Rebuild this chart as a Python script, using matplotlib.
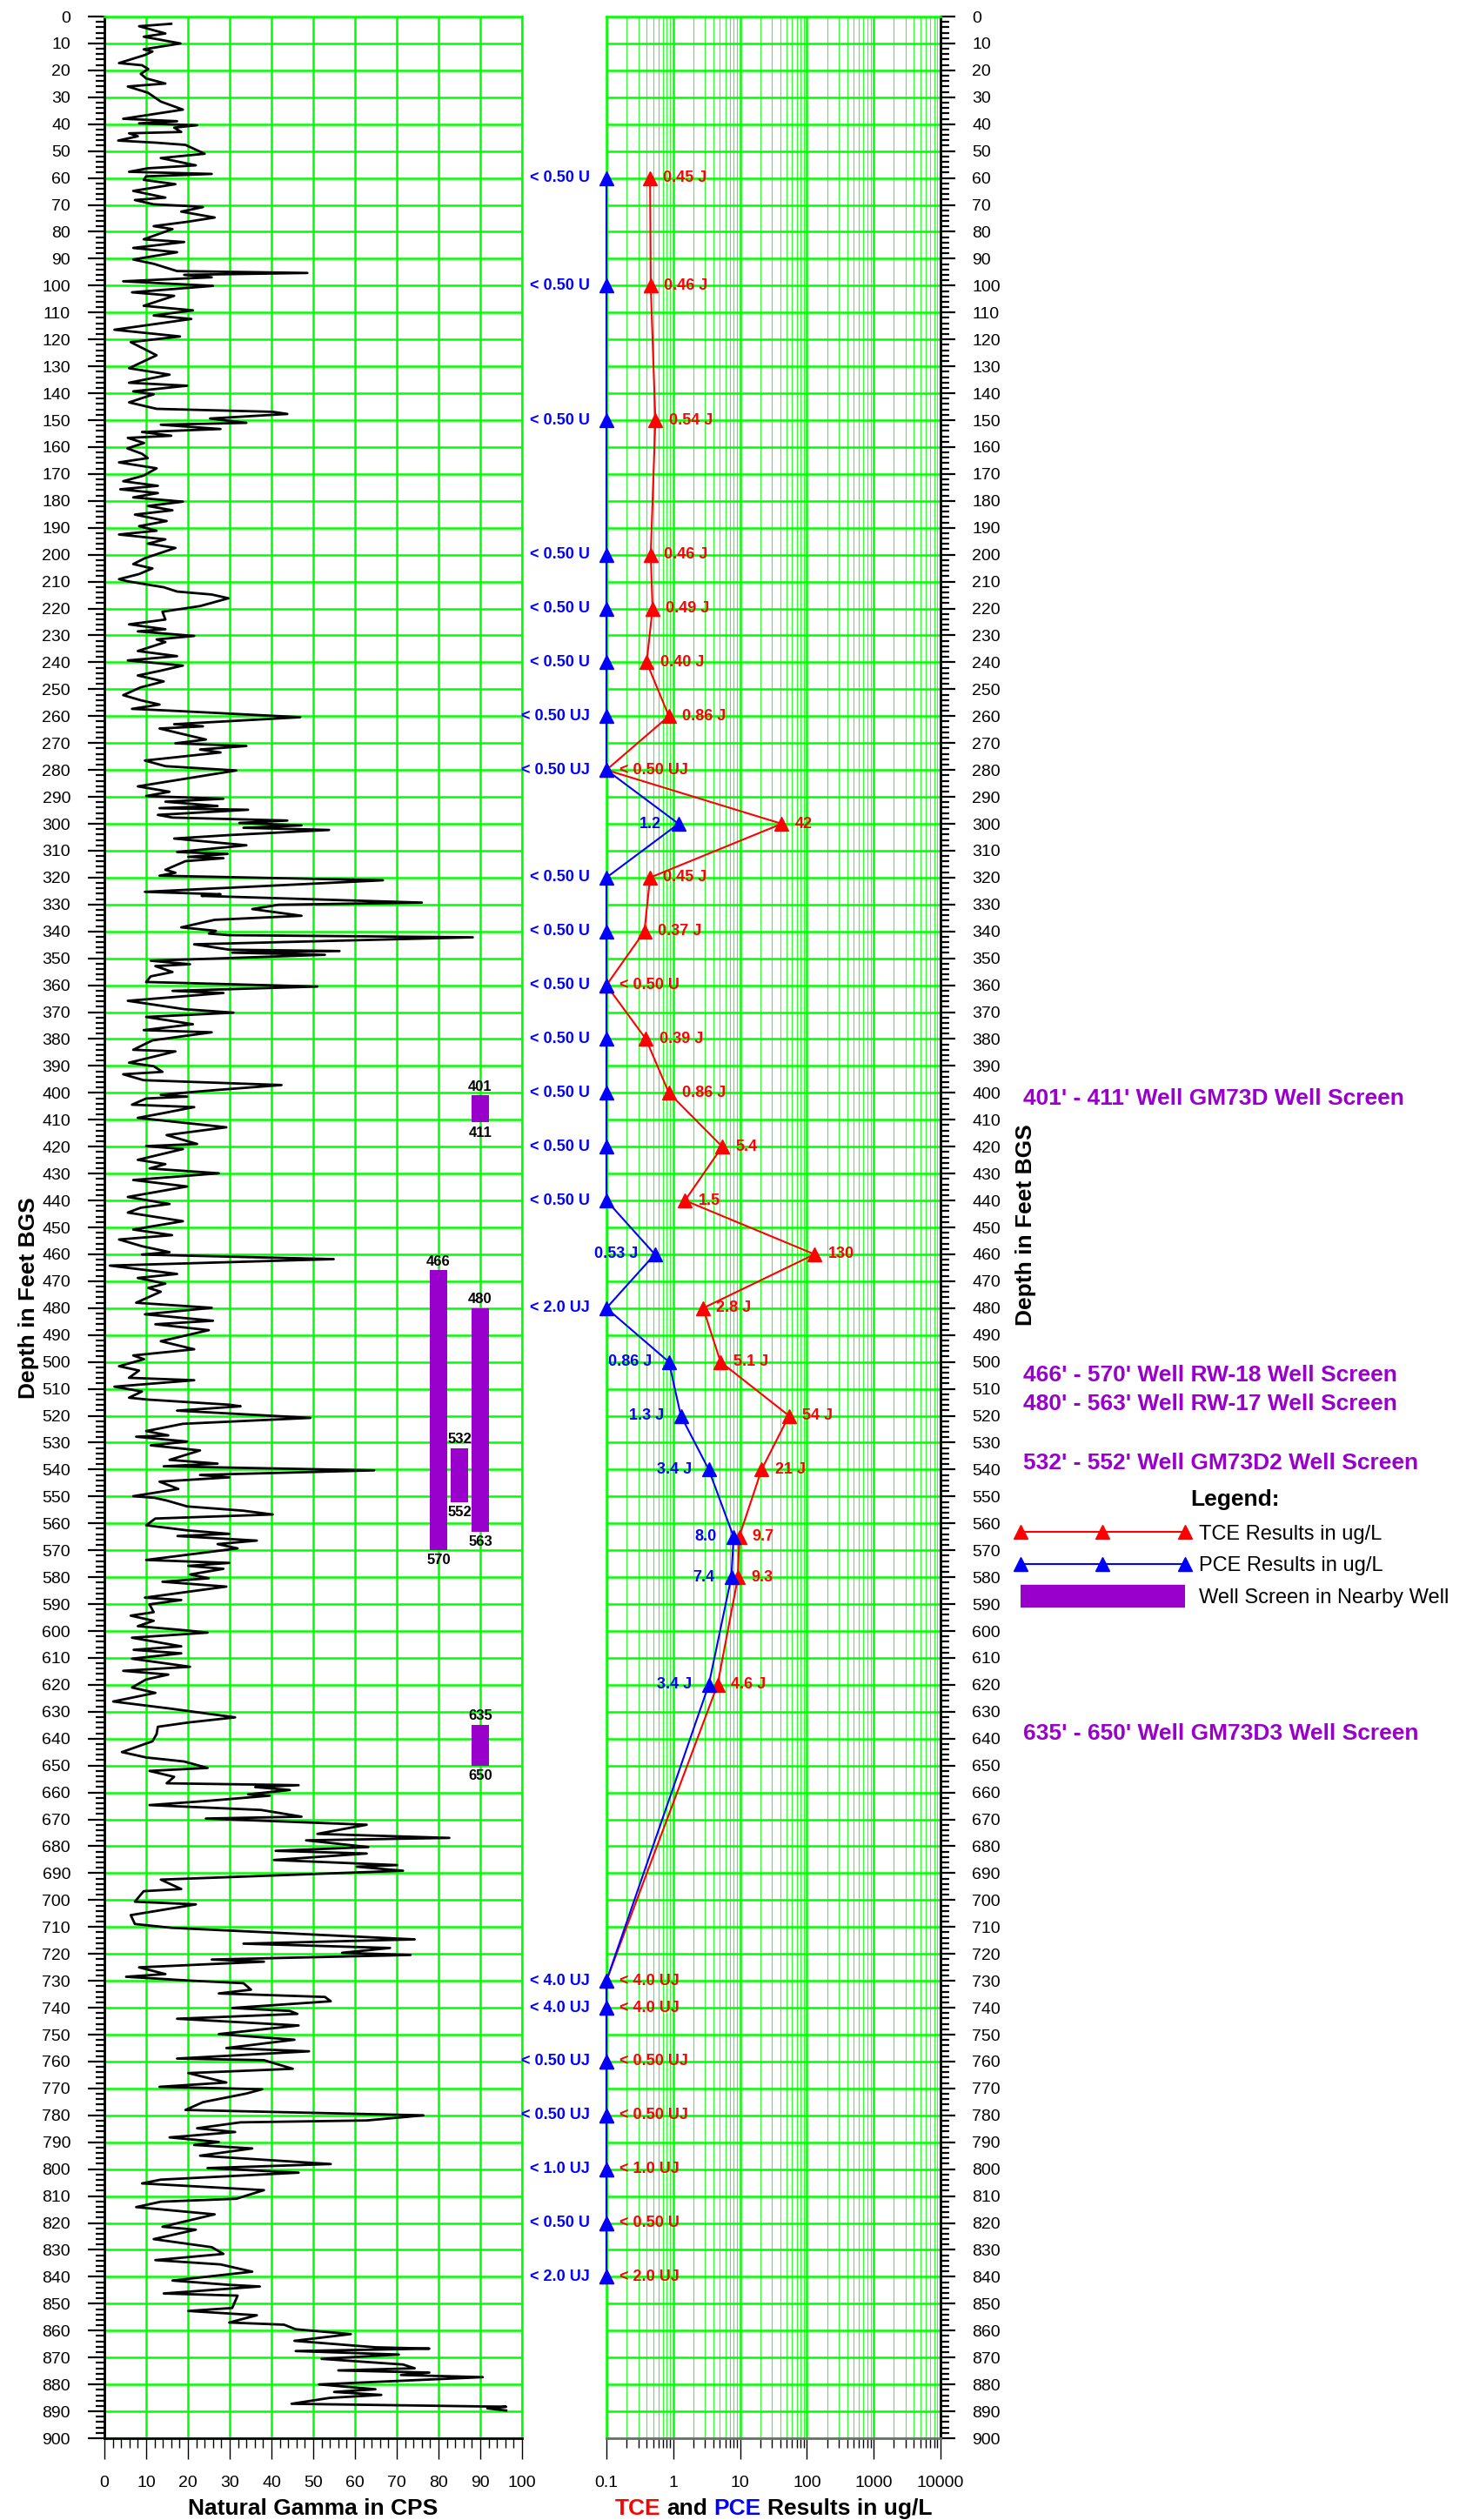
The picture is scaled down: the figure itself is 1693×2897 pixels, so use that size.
import numpy as np
import matplotlib
matplotlib.use("Agg")
from matplotlib import pyplot as plt
from matplotlib.lines import Line2D
from matplotlib.legend_handler import HandlerLine2D
from matplotlib.ticker import MultipleLocator, LogLocator, NullFormatter
import matplotlib.transforms as mtransforms

plt.rcParams['font.family'] = ['Liberation Sans', 'DejaVu Sans']

# natural gamma log: (depth ft, counts per second)
gamma_log = [
    (2.7, 16.0), (3.6, 8.3), (6.3, 14.6), (7.5, 9.4), (10.0, 18.2), (12.2, 9.4), (13.0, 11.5), (14.3, 9.7),
    (17.3, 3.5), (18.1, 9.0), (19.5, 10.5), (21.3, 8.7), (23.0, 10.0), (24.9, 14.6), (26.0, 5.6), (28.3, 10.4),
    (31.6, 13.5), (34.6, 18.8), (38.0, 4.5), (38.9, 17.4), (39.7, 8.3), (40.4, 22.2), (41.3, 16.7), (42.9, 18.4),
    (43.4, 5.9), (44.5, 8.0), (46.1, 3.3), (46.9, 12.5), (47.7, 19.4), (51.0, 24.0), (52.6, 13.5), (55.3, 21.9),
    (56.4, 10.4), (57.7, 5.9), (58.5, 25.7), (59.4, 10.0), (60.7, 9.4), (62.3, 17.0), (64.8, 6.9), (67.3, 14.6),
    (68.2, 7.3), (69.8, 11.8), (70.4, 19.8), (70.8, 23.6), (72.5, 18.4), (74.7, 26.4), (76.3, 19.8), (77.9, 11.8),
    (79.0, 16.3), (82.8, 9.4), (83.8, 19.1), (86.0, 6.9), (87.6, 17.4), (90.3, 6.9), (91.9, 11.8), (94.6, 17.4),
    (95.3, 48.6), (96.0, 19.1), (96.9, 25.7), (98.4, 4.5), (100.1, 26.0), (102.5, 6.6), (103.8, 16.7), (107.5, 9.4),
    (109.2, 21.2), (111.1, 11.8), (112.4, 20.8), (116.4, 2.4), (118.9, 18.1), (121.0, 6.3), (125.9, 12.5),
    (130.7, 5.9), (133.1, 15.6), (136.1, 5.9), (137.2, 19.8), (139.3, 6.9), (140.4, 11.8), (143.4, 5.9),
    (145.8, 12.5), (146.9, 40.3), (147.7, 43.8),
    (149.4, 25.3), (151.0, 34.0), (151.7, 13.5), (153.3, 27.8), (154.4, 9.0), (155.8, 16.0), (156.6, 5.6),
    (158.5, 9.5), (160.5, 5.5), (162.5, 9.0), (164.1, 10.4), (165.7, 3.5), (167.9, 12.5), (170.6, 9.4),
    (172.7, 4.5), (174.4, 12.8), (175.7, 3.8), (177.1, 12.8), (178.7, 6.9), (180.3, 18.8), (181.9, 10.4),
    (183.5, 16.3), (185.1, 7.3), (187.5, 14.9), (189.4, 8.3), (191.1, 12.5), (192.5, 3.5), (194.3, 14.6),
    (195.9, 10.4), (197.5, 17.0), (201.3, 9.7), (203.5, 6.9), (205.1, 11.5), (207.2, 8.3), (209.1, 3.5),
    (209.9, 5.6), (212.1, 14.2), (213.7, 17.4), (214.8, 25.7), (216.2, 29.7), (219.1, 22.9), (221.2, 13.9),
    (224.1, 14.6), (225.9, 5.9), (227.7, 14.6), (228.5, 8.0), (230.2, 21.5), (231.5, 12.5), (232.5, 14.6),
    (235.8, 8.0), (237.7, 17.4), (239.3, 5.6), (241.2, 18.8), (243.1, 13.5), (244.9, 8.0), (247.1, 14.2),
    (249.3, 8.7), (252.2, 4.5), (254.1, 8.7), (255.7, 13.2), (257.3, 6.6), (258.1, 17.7), (260.4, 46.9),
    (263.0, 16.7), (263.8, 23.6), (264.6, 13.2), (268.7, 24.3), (270.1, 17.0), (271.1, 34.0), (272.4, 22.9),
    (273.5, 27.8), (276.5, 9.7), (278.6, 14.6), (280.2, 31.6), (283.4, 18.8), (286.1, 8.0), (288.1, 15.6),
    (289.7, 10.0), (290.7, 28.5), (291.8, 14.6), (293.4, 27.1), (294.2, 13.2), (294.8, 34.4), (296.7, 12.8),
    (297.7, 16.3), (298.8, 43.8),
    (299.7, 32.3), (300.6, 47.2), (301.5, 33.3), (302.3, 53.8), (304.2, 29.9), (305.5, 16.7), (308.0, 34.0),
    (310.5, 17.4), (311.2, 29.5), (312.3, 20.1), (312.8, 28.5), (313.9, 19.4), (317.1, 14.6), (318.2, 17.0),
    (319.3, 13.2), (321.0, 66.7), (325.3, 9.7), (326.2, 27.8), (326.8, 23.3), (329.3, 76.0), (330.1, 41.7),
    (331.7, 35.4), (334.2, 47.2), (335.7, 26.4), (338.5, 18.4), (339.8, 26.7), (340.8, 25.0), (341.4, 29.9),
    (342.2, 88.2), (344.8, 21.5), (346.8, 29.9), (347.3, 56.3), (347.9, 30.6), (348.7, 52.8), (350.9, 11.1),
    (352.2, 20.5), (352.9, 12.2), (355.1, 16.3), (356.7, 11.1), (358.8, 10.0), (360.5, 51.0), (362.1, 16.3),
    (362.9, 28.5), (365.8, 5.6), (368.9, 19.1), (370.2, 30.9), (371.8, 10.0), (374.5, 21.2), (376.7, 9.4),
    (377.5, 25.7), (380.5, 11.5), (384.0, 6.9), (384.6, 17.0), (388.8, 5.9), (390.1, 11.8), (392.2, 13.9),
    (393.1, 4.5), (395.3, 9.4), (397.1, 42.4), (399.0, 26.4), (400.7, 13.5), (401.4, 19.8), (402.1, 10.0),
    (404.4, 6.6), (405.3, 21.5), (407.6, 13.9), (409.3, 8.0), (412.8, 29.2), (415.7, 14.9), (419.0, 22.2),
    (419.8, 10.0), (420.9, 18.8), (424.9, 8.0), (426.5, 14.6), (428.1, 10.8), (429.9, 27.4), (432.4, 6.9),
    (434.8, 19.8), (438.7, 5.6), (441.3, 15.6), (442.7, 8.7), (444.5, 5.6), (447.7, 18.8),
    (450.8, 6.9), (452.9, 16.2), (454.5, 3.5), (457.0, 9.0), (459.2, 15.6), (460.1, 9.0), (461.8, 54.9),
    (464.2, 1.3), (467.3, 17.4), (468.8, 8.0), (470.9, 14.6), (472.5, 10.5), (473.9, 13.5), (478.0, 7.6),
    (479.9, 25.7), (482.3, 9.7), (484.7, 26.0), (486.0, 12.2), (488.2, 25.0), (492.3, 13.5), (495.3, 21.5),
    (497.6, 6.9), (499.0, 9.5), (501.6, 3.5), (503.2, 8.3), (505.9, 5.9), (506.8, 21.5), (509.2, 2.4),
    (511.0, 9.0), (513.3, 5.9), (514.0, 10.4), (515.9, 29.9), (516.5, 32.6), (518.1, 17.4), (520.8, 49.3),
    (523.0, 18.8), (525.7, 10.0), (527.3, 15.3), (527.8, 7.6), (529.6, 19.8), (531.0, 11.1), (532.9, 22.9),
    (536.4, 15.6), (537.8, 27.1), (538.8, 14.2), (540.3, 64.6), (542.0, 22.9), (542.9, 29.9), (544.5, 13.2),
    (547.2, 17.7), (549.9, 6.9), (550.5, 12.0), (551.5, 14.9), (553.7, 19.8), (555.3, 33.3), (556.7, 40.3),
    (558.2, 12.2), (560.7, 10.0), (562.6, 19.8), (563.9, 29.9), (564.7, 17.5), (566.4, 36.5), (567.7, 27.1),
    (569.3, 31.9), (573.6, 10.0), (574.7, 29.9), (575.8, 20.1), (576.9, 28.5), (579.0, 20.5), (580.4, 25.0),
    (581.7, 13.9), (583.5, 29.2), (587.6, 9.7), (588.5, 18.4), (590.1, 10.8), (593.0, 11.8), (594.3, 6.3),
    (596.2, 11.8), (598.2, 8.0), (599.8, 19.8),
    (600.6, 24.7), (602.5, 6.6), (605.7, 18.4), (607.0, 7.0), (608.3, 18.4), (610.3, 6.6), (613.3, 20.5),
    (614.8, 4.5), (616.2, 15.3), (618.0, 10.0), (621.0, 6.6), (623.0, 12.2), (626.2, 2.1), (628.8, 15.6),
    (632.1, 31.3), (634.0, 20.1), (635.6, 12.8), (638.3, 12.5), (641.0, 11.5), (645.0, 4.2), (647.0, 10.0),
    (648.5, 19.1), (650.9, 24.7), (652.0, 10.8), (654.2, 16.7), (656.6, 14.9), (657.3, 46.5), (658.0, 36.1),
    (659.1, 44.4), (660.7, 34.4), (661.2, 39.6), (663.1, 25.0), (664.7, 10.8), (666.5, 37.5), (669.0, 47.2),
    (669.7, 24.3), (672.0, 62.8), (675.4, 51.0), (676.9, 82.6), (677.8, 48.3), (680.3, 63.2), (681.7, 41.0),
    (682.7, 62.8), (685.1, 40.6), (687.0, 70.1), (687.6, 60.4), (689.1, 71.5), (692.4, 13.5), (695.9, 18.4),
    (696.7, 9.4), (700.6, 7.3), (701.6, 21.9), (705.6, 6.3), (708.9, 7.3), (710.3, 16.0), (714.6, 74.3),
    (716.2, 33.3), (717.8, 68.4), (719.6, 56.9), (720.4, 73.3), (722.1, 25.7), (722.9, 38.2), (725.0, 8.3),
    (727.5, 14.6), (728.5, 5.2), (729.9, 20.1), (730.9, 33.3), (733.3, 35.1), (734.7, 27.4), (736.0, 52.8),
    (737.6, 54.2), (740.1, 30.6), (741.2, 44.4), (742.3, 46.2), (744.1, 17.4), (746.6, 46.5), (749.8, 27.4),
    (751.9, 45.5), (755.0, 29.2), (756.2, 49.0), (758.9, 17.4), (759.5, 38.2), (762.7, 45.1), (764.3, 20.1),
    (767.8, 29.2), (769.4, 13.2), (770.3, 37.8), (771.9, 34.0), (775.1, 23.6), (778.0, 19.4), (780.0, 76.4),
    (781.9, 62.8), (782.6, 32.6), (784.8, 22.2), (786.2, 31.3), (788.2, 15.6), (789.9, 27.4), (791.0, 21.5),
    (792.3, 35.4), (795.0, 22.9), (798.1, 54.2), (799.6, 24.7), (801.3, 46.5), (803.9, 13.5), (805.3, 9.0),
    (807.8, 38.2), (811.0, 31.6), (812.1, 13.5), (814.1, 7.6), (816.8, 26.4), (821.4, 13.9), (822.5, 21.9),
    (826.0, 11.8), (829.0, 25.7), (831.5, 28.5), (833.8, 12.2), (835.4, 27.8), (838.1, 35.4), (841.4, 16.3),
    (843.0, 29.9), (843.6, 37.2), (846.2, 14.2), (847.0, 31.9), (851.6, 30.6), (852.7, 20.1), (854.3, 36.5),
    (857.0, 29.9), (857.8, 43.0), (859.5, 45.8), (861.3, 59.0), (863.8, 45.5), (866.2, 64.9), (866.7, 77.8),
    (867.6, 45.8), (868.9, 70.5), (870.5, 52.0), (872.6, 71.5), (874.0, 74.3), (874.8, 56.0), (875.6, 77.8),
    (876.5, 71.0), (877.3, 90.6), (880.0, 51.4), (881.8, 64.9), (882.8, 55.0), (883.9, 66.3), (885.0, 54.0),
    (887.2, 44.8), (888.3, 96.2), (888.9, 91.7), (889.7, 96.2),
]

# groundwater samples; non-detects are plotted at the left edge of the log scale (0.1)
sample_depth = [60, 100, 150, 200, 220, 240, 260, 280, 300, 320, 340, 360, 380, 400, 420, 440,
                460, 480, 500, 520, 540, 565, 580, 620, 730, 740, 760, 780, 800, 820, 840]
tce_value = [0.45, 0.46, 0.54, 0.46, 0.49, 0.40, 0.86, 0.1, 42, 0.45, 0.37, 0.1, 0.39, 0.86, 5.4, 1.5,
             130, 2.8, 5.1, 54, 21, 9.7, 9.3, 4.6, 0.1, 0.1, 0.1, 0.1, 0.1, 0.1, 0.1]
tce_label = ['0.45 J', '0.46 J', '0.54 J', '0.46 J', '0.49 J', '0.40 J', '0.86 J', '< 0.50 UJ', '42',
             '0.45 J', '0.37 J', '< 0.50 U', '0.39 J', '0.86 J', '5.4', '1.5', '130', '2.8 J', '5.1 J',
             '54 J', '21 J', '9.7', '9.3', '4.6 J', '< 4.0 UJ', '< 4.0 UJ', '< 0.50 UJ', '< 0.50 UJ',
             '< 1.0 UJ', '< 0.50 U', '< 2.0 UJ']
pce_value = [0.1, 0.1, 0.1, 0.1, 0.1, 0.1, 0.1, 0.1, 1.2, 0.1, 0.1, 0.1, 0.1, 0.1, 0.1, 0.1,
             0.53, 0.1, 0.86, 1.3, 3.4, 8.0, 7.4, 3.4, 0.1, 0.1, 0.1, 0.1, 0.1, 0.1, 0.1]
pce_label = ['< 0.50 U', '< 0.50 U', '< 0.50 U', '< 0.50 U', '< 0.50 U', '< 0.50 U', '< 0.50 UJ',
             '< 0.50 UJ', '1.2', '< 0.50 U', '< 0.50 U', '< 0.50 U', '< 0.50 U', '< 0.50 U', '< 0.50 U',
             '< 0.50 U', '0.53 J', '< 2.0 UJ', '0.86 J', '1.3 J', '3.4 J', '8.0', '7.4', '3.4 J',
             '< 4.0 UJ', '< 4.0 UJ', '< 0.50 UJ', '< 0.50 UJ', '< 1.0 UJ', '< 0.50 U', '< 2.0 UJ']

# screened intervals of nearby wells
screen_top = [401, 466, 480, 532, 635]
screen_bottom = [411, 570, 563, 552, 650]
screen_col = [90, 80, 90, 85, 90]
screen_text = ["401' - 411' Well GM73D Well Screen",
               "466' - 570' Well RW-18 Well Screen",
               "480' - 563' Well RW-17 Well Screen",
               "532' - 552' Well GM73D2 Well Screen",
               "635' - 650' Well GM73D3 Well Screen"]
screen_text_depth = [402, 505, 515.5, 537.5, 638]

conc_ticks = [0.1, 1, 10, 100, 1000, 10000]
conc_tick_labels = ['0.1', '1', '10', '100', '1000', '10000']

GREEN = '#00ff00'
PURPLE = '#9900cc'
W, H = 1693, 2897
TOP, BOT = 19, 2803


def fx(px):
    return px / W


def fy(py):
    return 1 - py / H


fig = plt.figure(figsize=(W / 100, H / 100), dpi=100)
ax1 = fig.add_axes([fx(120), fy(BOT), (600 - 120) / W, (BOT - TOP) / H])
ax2 = fig.add_axes([fx(697), fy(BOT), (1081 - 697) / W, (BOT - TOP) / H])

# --- gamma log panel ---
gamma = np.array(gamma_log)
ax1.plot(gamma[:, 1], gamma[:, 0], color='black', lw=2.0, zorder=3)

ax1.bar(screen_col, np.subtract(screen_bottom, screen_top), bottom=screen_top,
        width=4.2, color=PURPLE, zorder=4)
narrow = ['Liberation Sans Narrow', 'Liberation Sans', 'DejaVu Sans']
for x, t, b in zip(screen_col, screen_top, screen_bottom):
    ax1.annotate(str(t), xy=(x, t), xytext=(0, 2), textcoords='offset points',
                 ha='center', va='bottom', fontsize=12, fontweight='bold', family=narrow, zorder=5)
    ax1.annotate(str(b), xy=(x, b), xytext=(0, -3), textcoords='offset points',
                 ha='center', va='top', fontsize=12, fontweight='bold', family=narrow, zorder=5)

ax1.set_xlim(0, 100)
ax1.set_ylim(900, 0)
ax1.xaxis.set_major_locator(MultipleLocator(10))
ax1.xaxis.set_minor_locator(MultipleLocator(2))
ax1.yaxis.set_major_locator(MultipleLocator(10))
ax1.yaxis.set_minor_locator(MultipleLocator(2))
ax1.grid(which='major', color=GREEN, lw=1.8)
ax1.set_axisbelow(True)
ax1.tick_params(axis='y', which='major', length=14, width=1.6, labelsize=14, pad=14)
ax1.tick_params(axis='y', which='minor', length=7, width=1.6)
ax1.tick_params(axis='x', which='major', length=17, width=1, labelsize=14, pad=14)
ax1.tick_params(axis='x', which='minor', length=8, width=1)
for side in ('top', 'right'):
    ax1.spines[side].set_color(GREEN)
    ax1.spines[side].set_linewidth(1.8)
for side in ('left', 'bottom'):
    ax1.spines[side].set_color('black')
    ax1.spines[side].set_linewidth(2)

# --- TCE / PCE panel ---
ax2.set_xscale('log')
ax2.plot(tce_value, sample_depth, color='red', lw=1.5, marker='^', ms=11,
         zorder=4, clip_on=False)
ax2.plot(pce_value, sample_depth, color='blue', lw=1.5, marker='^', ms=11,
         zorder=5, clip_on=False)
lab_kw = dict(textcoords='offset points', va='center', fontsize=13, fontweight='bold',
              annotation_clip=False, zorder=6)
for d, v, s in zip(sample_depth, tce_value, tce_label):
    ax2.annotate(s, xy=(v, d), xytext=(11, 0), ha='left', color='red', **lab_kw)
for d, v, s in zip(sample_depth, pce_value, pce_label):
    ax2.annotate(s, xy=(v, d), xytext=(-14, 0), ha='right', color='blue', **lab_kw)

ax2.set_xlim(0.1, 10000)
ax2.set_ylim(900, 0)
ax2.set_xticks(conc_ticks)
ax2.set_xticklabels(conc_tick_labels)
ax2.xaxis.set_minor_locator(LogLocator(base=10, subs=np.arange(2, 10)))
ax2.xaxis.set_minor_formatter(NullFormatter())
ax2.yaxis.set_major_locator(MultipleLocator(10))
ax2.yaxis.set_minor_locator(MultipleLocator(2))
ax2.grid(which='major', color=GREEN, lw=1.8)
ax2.grid(which='minor', axis='x', color='#33ff33', lw=0.8)
ax2.set_axisbelow(True)
ax2.yaxis.tick_right()
ax2.tick_params(axis='y', which='major', length=12, width=1.6, labelsize=14, pad=14)
ax2.tick_params(axis='y', which='minor', length=7, width=1.6)
ax2.tick_params(axis='x', which='major', length=17, width=1, labelsize=14, pad=14)
ax2.tick_params(axis='x', which='minor', length=8, width=1)
for side in ('top', 'left'):
    ax2.spines[side].set_color(GREEN)
    ax2.spines[side].set_linewidth(1.8)
ax2.spines['right'].set_color('black')
ax2.spines['right'].set_linewidth(2)
ax2.spines['bottom'].set_color('#6e6e6e')
ax2.spines['bottom'].set_linewidth(2)

# axis titles
title_kw = dict(fontsize=19, fontweight='bold')
fig.text(fx(33), fy(1492), 'Depth in Feet BGS', rotation=90, ha='center', va='center', **title_kw)
fig.text(fx(1179), fy(1408), 'Depth in Feet BGS', rotation=90, ha='center', va='center', **title_kw)
fig.text(fx(360), fy(2891), 'Natural Gamma in CPS', ha='center', va='baseline', fontsize=19,
         fontweight='bold')

# coloured x title for the concentration panel
renderer = fig.canvas.get_renderer()
full = 'TCE and PCE Results in ug/L'


def text_width(s):
    t = fig.text(0, 0, s, fontsize=19, fontweight='bold')
    w = t.get_window_extent(renderer).width
    t.remove()
    return w


x0 = 889 - text_width(full) / 2
for prefix, part, colour in [('TCE', 'TCE', 'red'), ('TCE and', 'and', 'black'),
                             ('TCE and PCE', 'PCE', 'blue'), (full, 'Results in ug/L', 'black')]:
    fig.text(fx(x0 + text_width(prefix)), fy(2891), part, ha='right', va='baseline',
             color=colour, fontsize=19, fontweight='bold')

# well screen notes
note_tr = mtransforms.blended_transform_factory(fig.transFigure, ax2.transData)
for s, d in zip(screen_text, screen_text_depth):
    fig.text(fx(1176), d, s, transform=note_tr, ha='left', va='center', color=PURPLE,
             fontsize=19, fontweight='bold')

# legend
h_tce = Line2D([], [], color='red', lw=1.5, marker='^', ms=11)
h_pce = Line2D([], [], color='blue', lw=1.5, marker='^', ms=12)
h_scr = Line2D([], [], color=PURPLE, lw=19, solid_capstyle='butt')
fig.legend([h_tce, h_pce, h_scr],
           ['TCE Results in ug/L', 'PCE Results in ug/L', 'Well Screen in Nearby Well'],
           loc='upper left', bbox_to_anchor=(fx(1173), fy(1712)), frameon=False,
           fontsize=17, numpoints=3, handlelength=8.0, handletextpad=0.7,
           labelspacing=0.62, borderpad=0, borderaxespad=0,
           title='Legend:', title_fontproperties={'size': 19, 'weight': 'bold'},
           handler_map={Line2D: HandlerLine2D(marker_pad=0)})
leg = fig.legends[-1]
leg._legend_box.sep = 12

fig.savefig('out.png', dpi=100)
